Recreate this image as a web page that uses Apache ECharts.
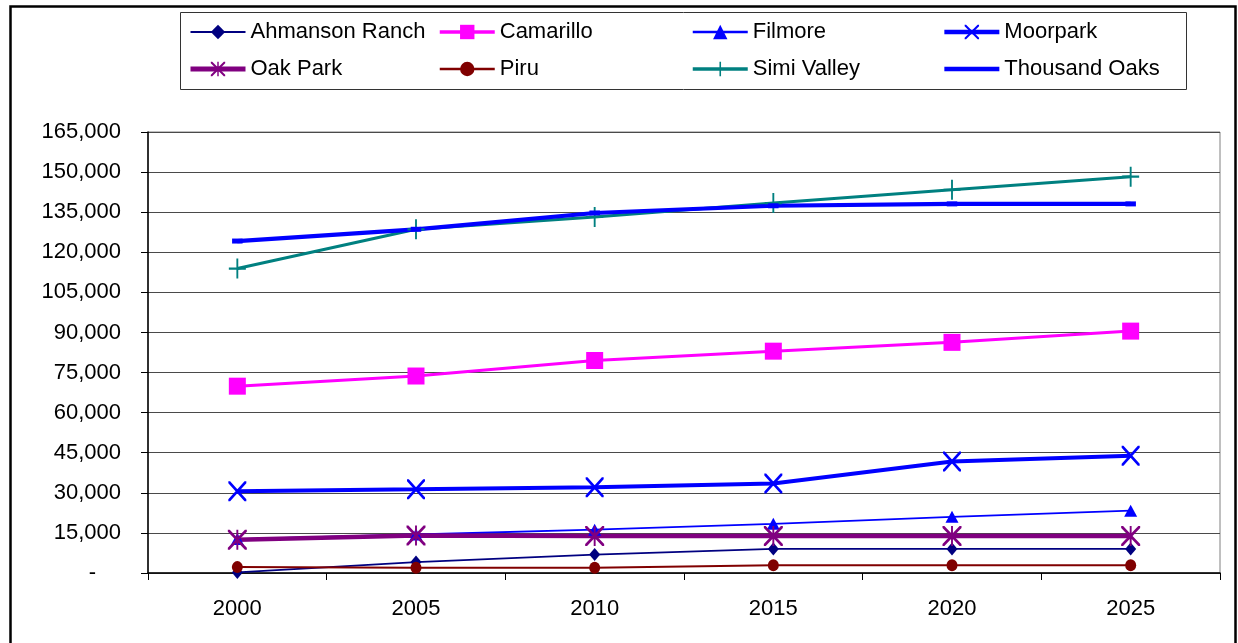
<!DOCTYPE html>
<html>
<head>
<meta charset="utf-8">
<title>Population Projections</title>
<script src="https://cdn.jsdelivr.net/npm/echarts@6/dist/echarts.min.js"></script>
<style>
  html, body { margin: 0; padding: 0; background: #fff; }
  #chart { width: 1238px; height: 643px; }
</style>
</head>
<body>
<div id="chart"></div>
<script>
// Population by community, 2000–2025
const years = ['2000', '2005', '2010', '2015', '2020', '2025'];

const ahmansonRanch = [200, 4100, 6900, 9000, 9000, 9000];
const camarillo     = [69900, 73700, 79500, 83000, 86300, 90500];
const filmore       = [12700, 14400, 16200, 18400, 21000, 23300];
const moorpark      = [30600, 31300, 32100, 33500, 41700, 43900];
const oakPark       = [12400, 14000, 13800, 13800, 13800, 13800];
const piru          = [2200, 2000, 2000, 2900, 2900, 2900];
const simiValley    = [113900, 128600, 133200, 138400, 143400, 148300];
const thousandOaks  = [124200, 128600, 134700, 137400, 138100, 138100];

const yMin = 0, yMax = 165000, yStep = 15000;

const FONT = "'Liberation Sans', Arial, Helvetica, sans-serif";

// Marker shapes drawn as filled outlines on a 20x20 box
const X_PATH = 'path://M0,0 L2,0 L20,18 L20,20 L18,20 L0,2 Z M18,0 L20,0 L20,2 L2,20 L0,20 L0,18 Z';
const STAR_PATH = X_PATH + ' M9,0 L11,0 L11,20 L9,20 Z';
const PLUS_PATH = 'path://M8.9,0 H11.1 V8.9 H20 V11.1 H11.1 V20 H8.9 V11.1 H0 V8.9 H8.9 Z';
// Short horizontal dash; the bare moveTo points keep the 20x20 box square
const DASH_PATH = 'path://M0,0 M20,20 M3,7.5 H17 V12.5 H3 Z';

function fmt(v) {
  return String(v).replace(/\B(?=(\d{3})+(?!\d))/g, ',');
}

function line(name, data, color, width, symbol, size) {
  return {
    name: name,
    type: 'line',
    data: data,
    symbol: symbol,
    symbolSize: size,
    showAllSymbol: true,
    lineStyle: { color: color, width: width },
    itemStyle: { color: color, borderWidth: 0 },
    emphasis: { disabled: true }
  };
}

const series = [
  line('Ahmanson Ranch', ahmansonRanch, '#000080', 1.7, 'diamond', [11, 13]),
  line('Camarillo', camarillo, '#FF00FF', 3, 'rect', [17, 17]),
  line('Filmore', filmore, '#0000FF', 1.8, 'triangle', [13, 12]),
  line('Moorpark', moorpark, '#0000FF', 4, X_PATH, [18, 20]),
  line('Oak Park', oakPark, '#800080', 4.5, STAR_PATH, [19, 20]),
  line('Piru', piru, '#800000', 2, 'circle', [11, 12]),
  line('Simi Valley', simiValley, '#008080', 3, PLUS_PATH, [17, 20]),
  line('Thousand Oaks', thousandOaks, '#0000FF', 4.2, DASH_PATH, [15, 20])
];

function legendItem(s) {
  return { name: s.name, lineStyle: { width: s.lineStyle.width + 0.5 } };
}

const legendCommon = {
  orient: 'vertical',
  top: 16,
  itemGap: 15,
  itemWidth: 55,
  itemHeight: 18,
  selectedMode: false,
  textStyle: { fontFamily: FONT, fontSize: 22, color: '#000', lineHeight: 22 }
};

const chart = echarts.init(document.getElementById('chart'), null, { renderer: 'canvas' });

chart.setOption({
  animation: false,
  backgroundColor: '#fff',
  textStyle: { fontFamily: FONT },
  grid: {
    left: 148, right: 18, top: 132, bottom: 70,
    show: true, borderColor: '#808080', borderWidth: 1
  },
  legend: [
    Object.assign({ left: 183, data: [legendItem(series[0]), legendItem(series[4])] }, legendCommon),
    Object.assign({ left: 433, data: [legendItem(series[1]), legendItem(series[5])] }, legendCommon),
    Object.assign({ left: 686, data: [legendItem(series[2]), legendItem(series[6])] }, legendCommon),
    Object.assign({ left: 937, data: [legendItem(series[3]), legendItem(series[7])] }, legendCommon)
  ],
  xAxis: {
    type: 'category',
    data: years,
    boundaryGap: true,
    axisLine: { lineStyle: { color: '#000', width: 1.5 } },
    axisTick: { show: true, length: 7, lineStyle: { color: '#000' } },
    axisLabel: { color: '#000', fontSize: 22, fontFamily: FONT, margin: 25 },
    splitLine: { show: false }
  },
  yAxis: {
    type: 'value',
    min: yMin, max: yMax, interval: yStep,
    axisLine: { show: true, lineStyle: { color: '#000', width: 1.5 } },
    axisTick: { show: true, length: 7, lineStyle: { color: '#000' } },
    axisLabel: {
      color: '#000', fontSize: 22, fontFamily: FONT, margin: 27,
      formatter: function (v) { return v === 0 ? '{d|-}' : fmt(v); },
      rich: { d: { fontSize: 22, fontFamily: FONT, color: '#000', padding: [0, 25, 0, 0] } }
    },
    splitLine: { show: true, lineStyle: { color: '#4a4a4a', width: 1 } }
  },
  graphic: [
    {
      type: 'rect', silent: true, z: 100,
      shape: { x: 10.5, y: 6.5, width: 1225, height: 645 },
      style: { fill: 'none', stroke: '#000', lineWidth: 2.5 }
    },
    {
      type: 'rect', silent: true, z: 100,
      shape: { x: 180.5, y: 12.5, width: 1006, height: 77 },
      style: { fill: 'none', stroke: '#333', lineWidth: 1 }
    }
  ],
  series: series
});
</script>
</body>
</html>
